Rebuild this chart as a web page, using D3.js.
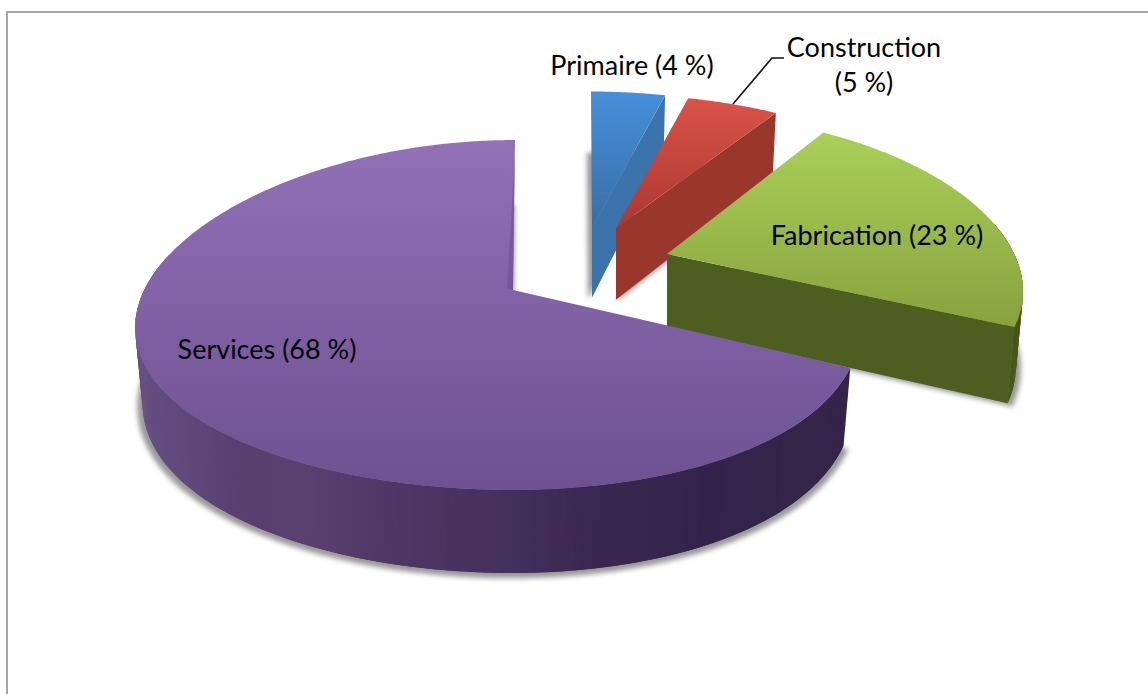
<!DOCTYPE html>
<html>
<head>
<meta charset="utf-8">
<script src="https://d3js.org/d3.v7.min.js"></script>
<style>
    html, body { margin: 0; padding: 0; background: #fff; overflow: hidden; }
    svg { display: block; }
    text { font-family: Lato, 'Open Sans', sans-serif; font-size: 27px; fill: #000; }
</style>
</head>
<body>
<svg width="1148" height="694"></svg>
<script>
    // data, clockwise from 12 o'clock
    var categories = ["Primaire", "Construction", "Fabrication", "Services"];
    var shares = [4, 5, 23, 68];

    // look of each slice, same order as categories
    var apexes = [[592, 228], [616, 228], [667, 254], [513, 290]];
    var scaleX = [1.02, 1.02, 1.02, 1];
    var scaleY = [0.91, 0.89, 0.94, 1];
    var leans = [-1, -2, -6, 2];
    var depthScale = [0.94, 0.97, 0.98, 1];
    var topColors = [["#468fda", "#396ea6"], ["#d95347", "#ab3832"], ["#aad058", "#88a23f"], ["#9271b7", "#6d5190"]];
    var cutColors = ["#3a74ab", "#9a372d", "#4e5e20", "#3f2b54"];
    var wallColors = [
        [[0, "#3a74ab"], [15, "#3a74ab"]],
        [[14, "#9a372d"], [33, "#9a372d"]],
        [[32, "#4e5e20"], [116, "#46561a"]],
        [[115, "#352449"], [135, "#362449"], [152, "#33234a"], [170, "#3b2850"], [180, "#44305c"], [192, "#4c3562"],
         [208, "#5a4070"], [218, "#573f70"], [232, "#604a7c"], [250, "#665084"], [285, "#6a5088"], [360, "#6a5088"]]
    ];

    var svg = d3.select("svg");
    var defs = svg.append("defs");

    // perspective of the pie plate
    var rx = 354, ry = 171.4, px = 0.209, py = 1 / 7, q = 0.04;
    var depth = 74, depthTilt = 9, bottomShrink = 0.98;

    function project(i, a, r, low) {
        var sin = Math.sin(a), cos = Math.cos(a);
        var x = r * scaleX[i] * rx * sin / (1 + px * cos + q * sin) + r * leans[i] * cos;
        var y = -r * scaleY[i] * ry * cos / (1 + py * cos);
        if (low) {
            x = x * bottomShrink;
            y = y + (depth - depthTilt * cos * r) * depthScale[i];
        }
        return [apexes[i][0] + x, apexes[i][1] + y];
    }

    function arcPoints(i, a0, a1, low) {
        var n = Math.ceil((a1 - a0) / 0.01);
        return d3.range(n + 1).map(function (k) {
            return project(i, a0 + (a1 - a0) * k / n, 1, low);
        });
    }

    var line = d3.line();
    function shut(pts) { return line(pts) + "Z"; }

    var pie = d3.pie().sort(null).value(function (d) { return d; });
    var slices = pie(shares);

    defs.append("filter").attr("id", "blur")
        .attr("x", "-10%").attr("y", "-10%").attr("width", "120%").attr("height", "120%")
        .append("feGaussianBlur").attr("stdDeviation", 2.5);

    // frame, open on the right and at the bottom
    svg.append("path")
        .attr("d", "M7,700V12H1150")
        .attr("fill", "none")
        .attr("stroke", "#a6a6a6")
        .attr("stroke-width", 2);

    slices.forEach(function (s, i) {
        var g = svg.append("g").attr("class", "slice").attr("id", "slice" + i);
        var a0 = s.startAngle, a1 = s.endAngle;

        // soft shadow of the bottom face
        var cx = apexes[i][0] + (i == 3 ? 0 : 10), cy = apexes[i][1] + 60;
        var bottom = [project(i, 0, 0, true)].concat(arcPoints(i, a0, a1, true)).map(function (p) {
            return [cx + (p[0] - cx) * 1.015 + (i == 0 ? -4 : 0), cy + (p[1] - cy) * 1.015 + 2];
        });
        g.append("path")
            .attr("d", shut(bottom))
            .attr("fill", "#555")
            .attr("opacity", 0.6)
            .attr("filter", "url(#blur)");

        // outer wall, cut in small strips so the colour can run along the angle
        // each strip overlaps the next one, and the ones on the far side are skipped
        var deg = wallColors[i].map(function (d) { return d[0]; });
        var wallColor = d3.scaleLinear().domain(deg).range(wallColors[i].map(function (d) { return d[1]; }));
        var n = Math.ceil((a1 - a0) / 0.01);
        var stepAngle = (a1 - a0) / n;
        var strips = d3.range(n).map(function (k) { return a0 + stepAngle * k; })
            .filter(function (b) { return Math.cos(b) < 0.2; });
        g.selectAll(".wall")
            .data(strips)
            .enter().append("path")
            .attr("class", "wall")
            .attr("d", function (b) {
                var b1 = Math.min(b + 2 * stepAngle, a1);
                return shut([project(i, b, 1, false), project(i, b1, 1, false), project(i, b1, 1, true), project(i, b, 1, true)]);
            })
            .attr("fill", function (b) { return wallColor(b * 180 / Math.PI); });

        // cut side that faces the viewer
        if (Math.sin(a1) > 0.001) {
            g.append("path")
                .attr("d", shut([project(i, a1, 0, false), project(i, a1, 1, false), project(i, a1, 1, true), project(i, a1, 0, true)]))
                .attr("fill", cutColors[i]);
        }

        // top face
        var topFace = [project(i, 0, 0, false)].concat(arcPoints(i, a0, a1, false));
        var ys = topFace.map(function (p) { return p[1]; });
        var grad = defs.append("linearGradient").attr("id", "top" + i)
            .attr("gradientUnits", "userSpaceOnUse")
            .attr("x1", 0).attr("x2", 0)
            .attr("y1", d3.min(ys)).attr("y2", d3.max(ys));
        grad.append("stop").attr("offset", 0).attr("stop-color", topColors[i][0]);
        grad.append("stop").attr("offset", 1).attr("stop-color", topColors[i][1]);
        g.append("path")
            .attr("d", shut(topFace))
            .attr("fill", "url(#top" + i + ")");

        // the big slice shows a sliver of its inner side along the first cut
        if (i == 3) {
            var edgeTop = project(i, a1, 0.88, false), edgeLow = project(i, a1, 0, false);
            g.append("path")
                .attr("d", shut([edgeTop, edgeLow, [edgeLow[0] - 6, edgeLow[1] - 2]]))
                .attr("fill", "#6d5093")
                .attr("opacity", 0.6);
        }
    });

    // leader line of the Construction label
    svg.append("path")
        .attr("d", "M733,104L772,58H784")
        .attr("fill", "none")
        .attr("stroke", "#111")
        .attr("stroke-width", 1.6);

    // labels
    var labelLines = [
        [categories[0] + " (" + shares[0] + " %)"],
        [categories[1], "(" + shares[1] + " %)"],
        [categories[2] + " (" + shares[2] + " %)"],
        [categories[3] + " (" + shares[3] + " %)"]
    ];
    var labelPos = [[632, 75], [864, 57], [877, 245], [267, 359]];

    labelLines.forEach(function (rows, i) {
        rows.forEach(function (t, k) {
            svg.append("text")
                .attr("x", labelPos[i][0])
                .attr("y", labelPos[i][1] + k * 35)
                .attr("text-anchor", "middle")
                .text(t);
        });
    });
</script>
</body>
</html>
